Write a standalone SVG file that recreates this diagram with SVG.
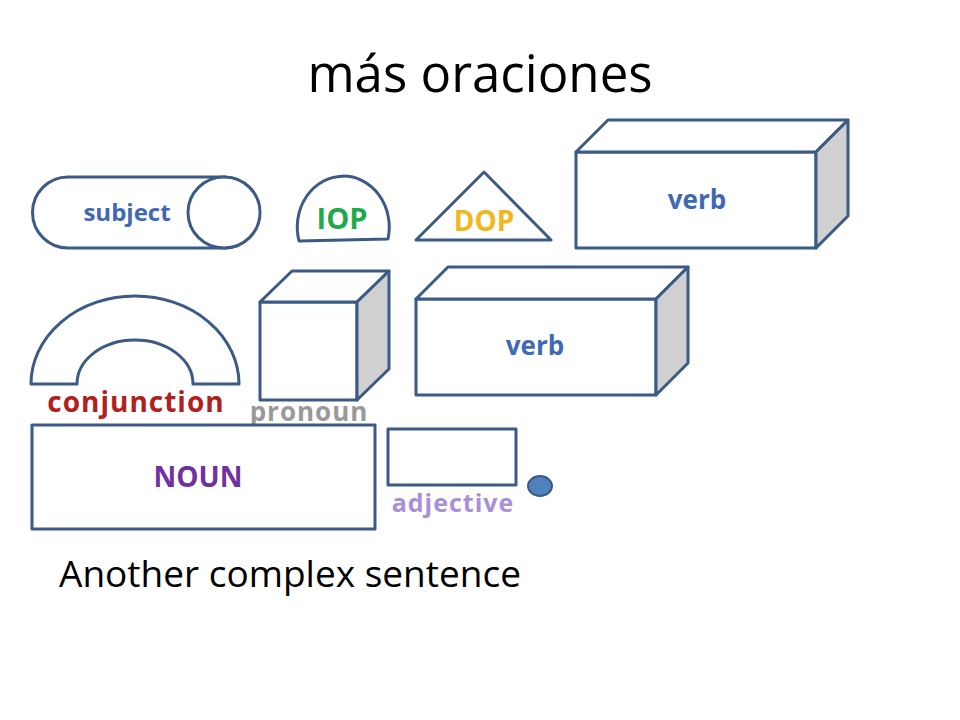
<svg xmlns="http://www.w3.org/2000/svg" width="960" height="720" viewBox="0 0 960 720">
<style>
.s{fill:#fff;stroke:#3b5a86;stroke-width:3;stroke-linejoin:round}
.g{fill:#d0d0d0;stroke:#3b5a86;stroke-width:3;stroke-linejoin:round}
.t{font-family:"Open Sans","Liberation Sans",sans-serif;font-weight:bold;text-anchor:middle}
</style>
<rect width="960" height="720" fill="#fff"/>
<text x="480" y="92" font-family="'Open Sans','Liberation Sans',sans-serif" font-size="51" text-anchor="middle" fill="#000">más oraciones</text>
<g id="subject">
<path class="s" d="M68,177 H224 A35.5,35.5 0 0 1 224,248 H68 A35.5,35.5 0 0 1 68,177 Z"/>
<ellipse class="s" cx="224" cy="212.5" rx="36" ry="35.5"/>
<text class="t" x="127" y="221" font-size="24" fill="#3f68b5">subject</text>
</g>
<g id="iop">
<path class="s" d="M299,241 A46,51 0 1 1 388,239 Z"/>
<text class="t" x="342" y="229" font-size="29" font-weight="normal" fill="#1faa4a" font-family="Liberation Sans,sans-serif">IOP</text>
</g>
<g id="dop">
<polygon class="s" points="416,240 484,172 551,240"/>
<text class="t" x="484" y="231" font-size="28" fill="#f0b820" font-family="Liberation Sans,sans-serif">DOP</text>
</g>
<g id="verb1">
<rect class="s" x="576" y="152" width="240" height="96"/>
<polygon class="s" points="576,152 608,120 848,120 816,152"/>
<polygon class="g" points="816,152 848,120 848,216 816,248"/>
<text class="t" x="697" y="209" font-size="26" fill="#3f68b5">verb</text>
</g>
<g id="conjunction">
<path class="s" d="M31,384 A104,88 0 0 1 239,384 H193 A58,44 0 0 0 77,384 Z"/>
<text class="t" x="136" y="412" font-size="28" fill="#b02020" letter-spacing="1">conjunction</text>
</g>
<g id="pronoun">
<rect class="s" x="260" y="302" width="97" height="98"/>
<polygon class="s" points="260,302 292,271 389,271 357,302"/>
<polygon class="g" points="357,302 389,271 389,369 357,400"/>
<text class="t" x="309" y="421" font-size="26" fill="#999" letter-spacing="1">pronoun</text>
</g>
<g id="verb2">
<rect class="s" x="416" y="299" width="240" height="96"/>
<polygon class="s" points="416,299 448,267 688,267 656,299"/>
<polygon class="g" points="656,299 688,267 688,363 656,395"/>
<text class="t" x="535" y="355" font-size="26" fill="#3f68b5">verb</text>
</g>
<g id="noun">
<rect class="s" x="32" y="425" width="343" height="104"/>
<text class="t" x="198" y="487" font-size="28" fill="#7030a0" font-family="Liberation Sans,sans-serif">NOUN</text>
</g>
<g id="adjective">
<rect class="s" x="388" y="429" width="128" height="56"/>
<text class="t" x="453" y="512" font-size="25" fill="#a98fd8" letter-spacing="1">adjective</text>
</g>
<g id="dot">
<ellipse cx="540" cy="486" rx="12" ry="10" fill="#4f81bd" stroke="#3b5a86" stroke-width="2"/>
</g>
<g id="connectors"></g>
<text x="59" y="587" font-family="'Open Sans','Liberation Sans',sans-serif" font-size="37" fill="#000">Another complex sentence</text>
</svg>
